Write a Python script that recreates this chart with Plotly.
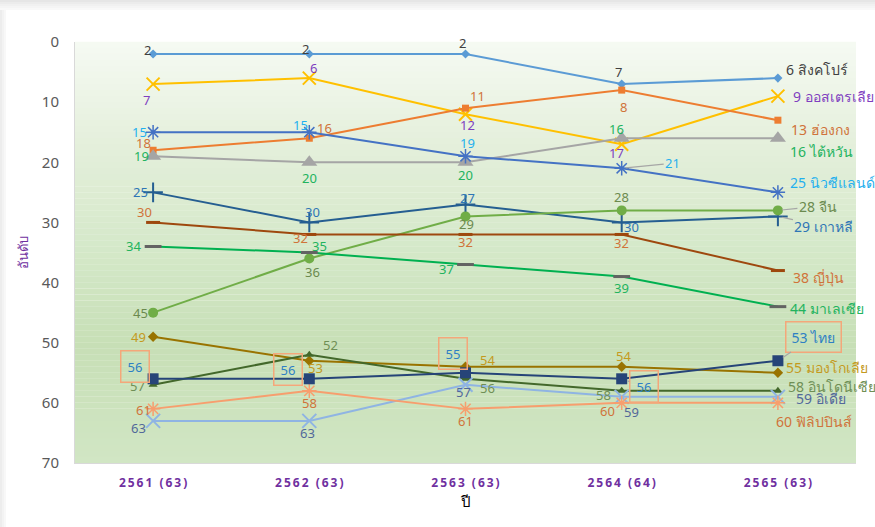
import plotly.graph_objects as go

# ---------------- data ----------------
years = ["2561 (63)", "2562 (63)", "2563 (63)", "2564 (64)", "2565 (63)"]

singapore = [2, 2, 2, 7, 6]
australia = [7, 6, 12, 17, 9]
hongkong = [18, 16, 11, 8, 13]
taiwan = [19, 20, 20, 16, 16]
newzealand = [15, 15, 19, 21, 25]
korea = [25, 30, 27, 30, 29]
china = [45, 36, 29, 28, 28]
japan = [30, 32, 32, 32, 38]
malaysia = [34, 35, 37, 39, 44]
mongolia = [49, 53, 54, 54, 55]
thailand = [56, 56, 55, 56, 53]
indonesia = [57, 52, 56, 58, 58]
india = [63, 63, 57, 59, 59]
philippines = [61, 58, 61, 60, 60]

y_ticks = [0, 10, 20, 30, 40, 50, 60, 70]
x_title = "ปี"
y_title = "อันดับ"

# ---------------- styles ----------------
FONT = "Segoe UI, Tahoma, Noto Sans, Roboto, sans-serif"
W, H = 875, 527
ML, MR, MT, MB = 75, 19, 42, 64
PW, PH = W - ML - MR, H - MT - MB

# (name, values, line color, symbol, size, marker color, marker line width, label color, label positions)
# positions: (dx, dy, mode) mode c=center, l=left anchored, a=arrow leader, b=boxed, ba=boxed with leader
series = [
    ("สิงคโปร์", singapore, "#5B9BD5", "diamond", 7, "#5B9BD5", 0, "#404040",
     [(-6, -4, "c"), (-4, -5, "c"), (-3, -11, "c"), (-3, -12, "c"), (6, -9, "l")]),
    ("ออสเตรเลีย", australia, "#FFC000", "x-thin-open", 13, "#FFC000", 2, "#7F3FBF",
     [(-7, 16, "c"), (4, -10, "c"), (2, 11, "c"), (-5, 9, "c"), (13, 0, "l")]),
    ("ฮ่องกง", hongkong, "#ED7D31", "square", 7, "#ED7D31", 0, "#D0733A",
     [(-10, -7, "c"), (15, -10, "c"), (12, -12, "c"), (2, 17, "c"), (11, 9, "l")]),
    ("ไต้หวัน", taiwan, "#A5A5A5", "triangle-up", 14, "#A5A5A5", 0, "#22B35E",
     [(-12, 0, "c"), (0, 16, "c"), (0, 13, "c"), (-5, -9, "c"), (10, 13, "l")]),
    ("นิวซีแลนด์", newzealand, "#4472C4", "asterisk-open", 12, "#4472C4", 1.5, "#1FB0EE",
     [(-14, 0, "c"), (-9, -7, "c"), (2, -13, "c"), (51, -5, "a"), (10, -10, "l")]),
    ("เกาหลี", korea, "#255E91", "cross-thin-open", 14, "#255E91", 2, "#2E75B6",
     [(-13, 0, "c"), (3, -10, "c"), (2, -6, "c"), (10, 5, "c"), (46, 10, "a")]),
    ("จีน", china, "#70AD47", "circle", 10, "#70AD47", 0, "#6B8A4E",
     [(-13, 0, "c"), (3, 13, "c"), (1, 8, "c"), (0, -13, "c"), (40, -4, "a")]),
    ("ญี่ปุ่น", japan, "#9E480E", "line-ew-open", 10, "#9E480E", 3, "#D0733A",
     [(-9, -10, "c"), (-9, 4, "c"), (0, 8, "c"), (0, 9, "c"), (13, 7, "l")]),
    ("มาเลเซีย", malaysia, "#00B050", "line-ew-open", 12, "#636363", 3, "#22B35E",
     [(-20, 0, "c"), (10, -7, "c"), (-19, 4, "c"), (0, 11, "c"), (10, 2, "l")]),
    ("มองโกเลีย", mongolia, "#997300", "diamond", 8, "#997300", 0, "#C49A1E",
     [(-15, 0, "c"), (6, 7, "c"), (22, -7, "c"), (2, -11, "c"), (6, -5, "l")]),
    ("อินโดนีเซีย", indonesia, "#43682B", "triangle-up", 8, "#43682B", 0, "#6F8F55",
     [(-16, 1, "c"), (21, -10, "c"), (22, 9, "c"), (-18, 4, "c"), (8, -4, "l")]),
    ("อิเดีย", india, "#8FB4E3", "x-thin-open", 14, "#8FB4E3", 2, "#52689A",
     [(-15, 7, "c"), (-2, 12, "c"), (-2, 7, "c"), (10, 15, "c"), (16, 2, "l")]),
    ("ฟิลิปปินส์", philippines, "#F79E6E", "asterisk-open", 12, "#F79E6E", 1.5, "#D0733A",
     [(-10, 1, "c"), (0, 12, "c"), (0, 12, "c"), (-14, 8, "c"), (-4, 19, "l")]),
    ("ไทย", thailand, "#264478", "square", 11, "#264478", 0, "#2E80C4",
     [(-18, -12, "b"), (-21, -9, "b"), (-13, -19, "b"), (22, 8, "ba"), (36, -24, "ba")]),
]

fig = go.Figure()

for name, vals, lc, sym, msz, mc, mlw, tc, pos in series:
    fig.add_trace(go.Scatter(
        x=years, y=vals, mode="lines+markers", name=name,
        line=dict(color=lc, width=2),
        marker=dict(symbol=sym, size=msz, color=mc,
                    line=dict(color=mc, width=mlw)),
        hoverinfo="skip", showlegend=False,
    ))

annotations = []
for name, vals, lc, sym, msz, mc, mlw, tc, pos in series:
    for i, (x, v) in enumerate(zip(years, vals)):
        dx, dy, mode = pos[i]
        text = f"{v} {name}" if i == len(vals) - 1 else f"{v}"
        fsize = 14 if i == len(vals) - 1 else 13
        ann = dict(x=x, y=v, xref="x", yref="y", text=text,
                   font=dict(family=FONT, size=fsize, color=tc))
        if mode == "c":
            ann.update(showarrow=False, xshift=dx, yshift=-dy,
                       xanchor="center", yanchor="middle")
        elif mode == "l":
            ann.update(showarrow=False, xshift=dx, yshift=-dy,
                       xanchor="left", yanchor="middle")
        elif mode == "a":
            ann.update(showarrow=True, ax=dx, ay=dy, arrowhead=0,
                       arrowwidth=1.2, arrowcolor="#A6A6A6", standoff=4)
        elif mode == "b":
            ann.update(showarrow=False, xshift=dx, yshift=-dy,
                       xanchor="center", yanchor="middle",
                       bordercolor="#F4A77A", borderwidth=1.5, borderpad=6)
        elif mode == "ba":
            ann.update(showarrow=True, ax=dx, ay=dy, arrowhead=0,
                       arrowwidth=1.2, arrowcolor="#A6A6A6", standoff=6,
                       bordercolor="#F4A77A", borderwidth=1.5,
                       borderpad=6 if i < len(vals) - 1 else 5)
        annotations.append(ann)

# ------------- background gradient of the plot area -------------
def hex2rgb(h):
    h = h.lstrip("#")
    return tuple(int(h[k:k + 2], 16) for k in (0, 2, 4))

stops = [(0.0, "#F6FAF3"), (0.25, "#E4EFDB"), (0.5, "#D4E8C8"),
         (0.72, "#C7DFB6"), (1.0, "#D1E6C4")]

def color_at(t):
    for (p0, c0), (p1, c1) in zip(stops[:-1], stops[1:]):
        if p0 <= t <= p1:
            f = (t - p0) / (p1 - p0)
            a, b = hex2rgb(c0), hex2rgb(c1)
            return "rgb(%d,%d,%d)" % tuple(round(a[k] + (b[k] - a[k]) * f) for k in range(3))
    return stops[-1][1]

shapes = []
N = 70
for k in range(N):
    t = (k + 0.5) / N  # from top
    shapes.append(dict(type="rect", xref="paper", yref="paper",
                       x0=0, x1=1, y0=1 - (k + 1) / N, y1=1 - k / N + 0.0005,
                       fillcolor=color_at(t), line=dict(width=0), layer="below"))

# card shadow (top and left)
def py(p):
    return 1 - (p - MT) / PH

def px(p):
    return (p - ML) / PW

for j, c in enumerate(["#E6E6E6", "#ECECEC", "#F1F1F1", "#F5F5F5", "#F9F9F9"]):
    shapes.append(dict(type="rect", xref="paper", yref="paper",
                       x0=px(0), x1=px(W), y0=py(2 * j + 2), y1=py(2 * j),
                       fillcolor=c, line=dict(width=0), layer="below"))
for j, c in enumerate(["#EDEDED", "#F3F3F3", "#F8F8F8"]):
    shapes.append(dict(type="rect", xref="paper", yref="paper",
                       x0=px(2 * j), x1=px(2 * j + 2), y0=py(H), y1=py(10),
                       fillcolor=c, line=dict(width=0), layer="below"))

def spaced(s):
    return "\u2009".join(list(s)).replace("\u2009 \u2009", "\u2009 \u2009")

fig.update_layout(
    width=W, height=H,
    margin=dict(l=ML, r=MR, t=MT, b=MB, pad=0),
    paper_bgcolor="white", plot_bgcolor="rgba(0,0,0,0)",
    font=dict(family=FONT),
    shapes=shapes, annotations=annotations, showlegend=False,
    xaxis=dict(type="category", range=[-0.5, 4.5], categoryorder="array",
               categoryarray=years, tickmode="array", tickvals=years,
               ticktext=[spaced(y) for y in years],
               tickfont=dict(family=FONT, size=12, color="#7030A0", weight="bold"),
               showgrid=False, zeroline=False, showline=True,
               linecolor="#D9D9D9", linewidth=1,
               ticks="outside", ticklen=9, tickcolor="rgba(0,0,0,0)",
               title=dict(text=x_title, font=dict(family=FONT, size=15, color="#000000"),
                          standoff=4)),
    yaxis=dict(range=[70, 0], tickmode="array", tickvals=y_ticks,
               tickfont=dict(family=FONT, size=15, color="#595959"),
               showgrid=False, zeroline=False, showline=True,
               linecolor="#D9D9D9", linewidth=1,
               ticks="outside", ticklen=12, tickcolor="rgba(0,0,0,0)",
               title=dict(text=y_title, font=dict(family=FONT, size=13, color="#7030A0"),
                          standoff=10)),
)

fig.write_html("out.html")
